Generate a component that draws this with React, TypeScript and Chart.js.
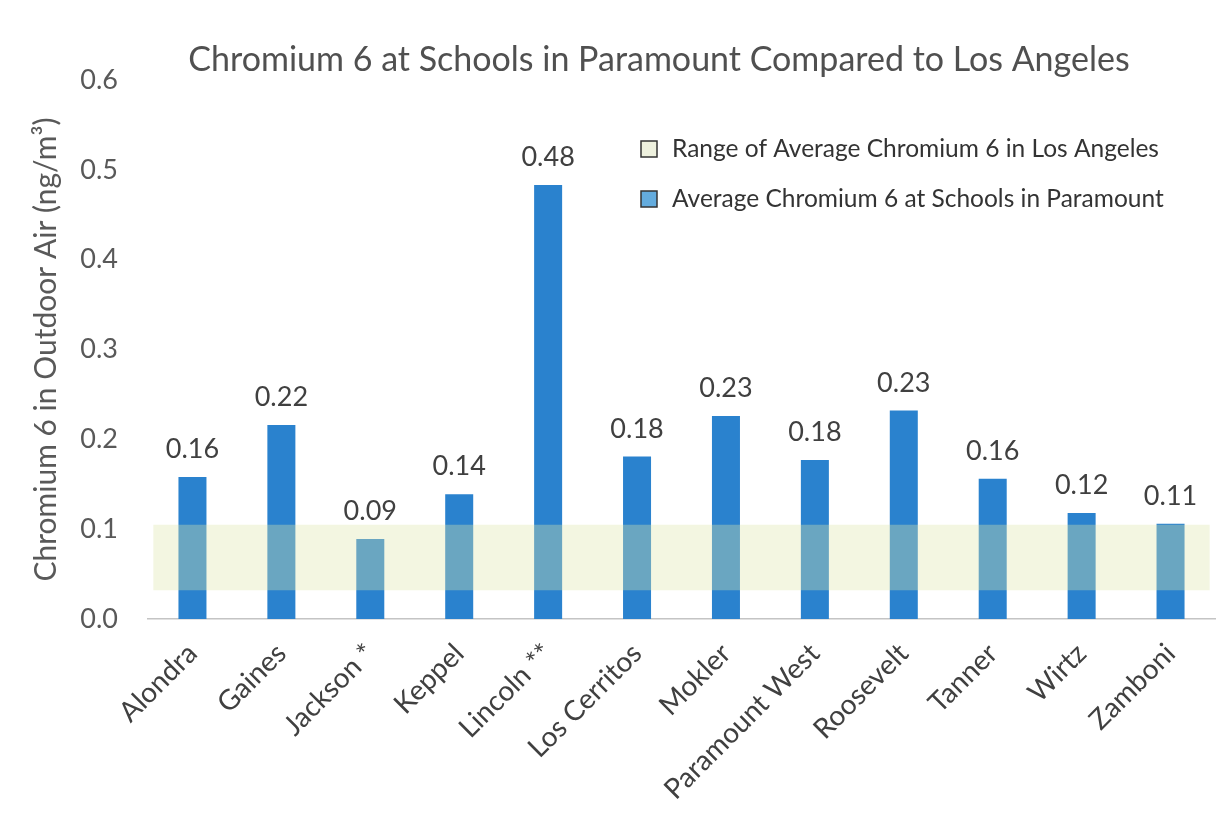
import React, { useEffect, useRef } from "react";
import { Chart, registerables } from "chart.js";

Chart.register(...registerables);

const TITLE = "Chromium 6 at Schools in Paramount Compared to Los Angeles";
const Y_TITLE = "Chromium 6 in Outdoor Air (ng/m\u00B3)";
const schools = [
  "Alondra",
  "Gaines",
  "Jackson *",
  "Keppel",
  "Lincoln **",
  "Los Cerritos",
  "Mokler",
  "Paramount West",
  "Roosevelt",
  "Tanner",
  "Wirtz",
  "Zamboni",
];
const schoolValues = [0.158, 0.216, 0.089, 0.139, 0.483, 0.181, 0.226, 0.177, 0.232, 0.156, 0.118, 0.106];
const laRange = [0.032, 0.105];
const laLabel = ["Los Angeles"];
const legendLabels = [
  "Range of Average Chromium 6 in Los Angeles",
  "Average Chromium 6 at Schools in Paramount",
];

const FONT = "Lato, 'Open Sans', sans-serif";
const BAR_COLOR = "rgb(42,130,206)";
const BAND_COLOR = "rgba(222,230,172,0.36)";
const TEXT = "#404040";

const overlayPlugin = {
  id: "overlay",
  afterDatasetsDraw(chart: any) {
    const ctx = chart.ctx;
    const meta = chart.getDatasetMeta(1);
    ctx.save();
    ctx.fillStyle = TEXT;
    ctx.font = `27px ${FONT}`;
    ctx.textAlign = "center";
    ctx.textBaseline = "bottom";
    meta.data.forEach((el: any, i: number) => {
      const v = schoolValues[i];
      ctx.fillText(v.toFixed(2), el.x, el.y - 14);
    });
    ctx.restore();
  },
  afterDraw(chart: any) {
    const ctx = chart.ctx;
    ctx.save();
    // title
    ctx.fillStyle = "#505050";
    ctx.font = `34px ${FONT}`;
    ctx.textAlign = "center";
    ctx.textBaseline = "middle";
    ctx.fillText(TITLE, 659, 60);
    // legend
    const boxes = [
      { fill: "rgb(238,241,222)", y: 149 },
      { fill: "rgb(100,172,222)", y: 199 },
    ];
    ctx.font = `24.5px ${FONT}`;
    ctx.textAlign = "left";
    boxes.forEach((b, i) => {
      ctx.fillStyle = b.fill;
      ctx.fillRect(641, b.y - 8, 16, 16);
      ctx.strokeStyle = "#333";
      ctx.lineWidth = 1.5;
      ctx.strokeRect(641, b.y - 8, 16, 16);
      ctx.fillStyle = "#333";
      ctx.fillText(legendLabels[i], 672, b.y);
    });
    ctx.restore();
  },
};

export default function App() {
  const ref = useRef<HTMLCanvasElement | null>(null);
  useEffect(() => {
    if (!ref.current) return;
    const chart = new Chart(ref.current, {
      type: "bar",
      data: {
        labels: schools,
        datasets: [
          {
            label: legendLabels[0],
            data: [laRange as any],
            xAxisID: "x2",
            backgroundColor: BAND_COLOR,
            borderWidth: 0,
            barPercentage: 0.99,
            categoryPercentage: 1,
            grouped: false,
          } as any,
          {
            label: legendLabels[1],
            data: schoolValues,
            xAxisID: "x",
            backgroundColor: BAR_COLOR,
            borderWidth: 0,
            barPercentage: 0.315,
            categoryPercentage: 1,
            grouped: false,
          } as any,
        ],
      },
      options: {
        responsive: false,
        animation: false,
        layout: { padding: { top: 80, left: 0, right: 13, bottom: 0 } },
        plugins: {
          legend: { display: false },
          title: { display: false },
          tooltip: { enabled: false },
        },
        scales: {
          x: {
            type: "category",
            grid: { display: false },
            border: { display: true, color: "#c4c4c4", width: 1.5 },
            ticks: {
              color: TEXT,
              font: { family: FONT, size: 28 },
              minRotation: 45,
              maxRotation: 45,
              padding: 10,
              autoSkip: false,
            },
            afterFit(scale: any) {
              scale.height = 197;
            },
          },
          x2: {
            type: "category",
            labels: laLabel,
            display: false,
            offset: true,
          },
          y: {
            min: 0,
            max: 0.6,
            grid: { display: false, drawTicks: false },
            border: { display: false },
            ticks: {
              stepSize: 0.1,
              color: "#595959",
              font: { family: FONT, size: 27 },
              padding: 30,
              callback: (v: any) => Number(v).toFixed(1),
            },
            title: {
              display: true,
              text: Y_TITLE,
              color: "#595959",
              font: { family: FONT, size: 30 },
              padding: { top: 28, bottom: 0 },
            },
            afterFit(scale: any) {
              scale.width = 148;
            },
          },
        },
      } as any,
      plugins: [overlayPlugin],
    });
    return () => chart.destroy();
  }, []);
  return (
    <div style={{ position: "absolute", left: 0, top: 0, width: 1228, height: 816, background: "#fff" }}>
      <canvas ref={ref} width={1228} height={816} style={{ display: "block" }} />
    </div>
  );
}
